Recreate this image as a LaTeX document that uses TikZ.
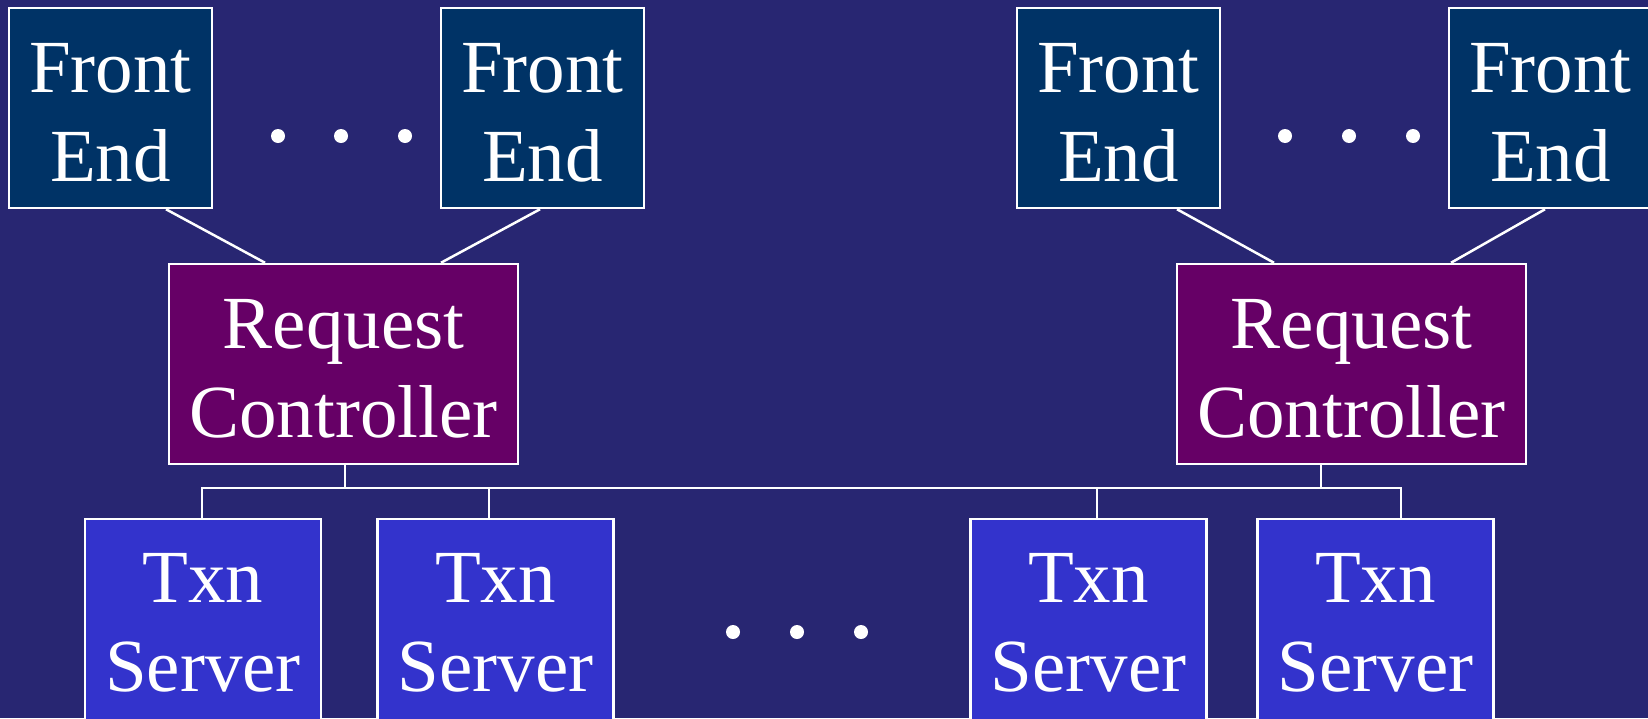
\documentclass[tikz,border=0pt]{standalone}
\usepackage{fontspec}
\setmainfont{Liberation Serif}
\definecolor{bgcol}{RGB}{40,38,114}
\definecolor{fecol}{RGB}{0,51,102}
\definecolor{rccol}{RGB}{102,0,102}
\definecolor{txcol}{RGB}{51,51,204}
\tikzset{
  box/.style={draw=white, line width=2.5pt, inner sep=0pt, text=white, align=center,
    font=\fontsize{75}{89}\selectfont, text depth=0pt},
  febox/.style={box, fill=fecol, minimum width=203pt, minimum height=200pt, text height=146pt},
  rcbox/.style={box, fill=rccol, minimum width=349pt, minimum height=200pt, text height=146pt},
  txbox/.style={box, fill=txcol, minimum width=236pt, minimum height=220pt, text height=124pt},
  wire/.style={draw=white, line width=2.5pt},
  dot/.style={circle, fill=white, inner sep=0pt, minimum size=14pt}
}
\begin{document}
\begin{tikzpicture}[x=1pt, y=-1pt]
\useasboundingbox (0,0) rectangle (1648,718);
\clip (0,0) rectangle (1648,718);
\fill[bgcol] (0,0) rectangle (1648,718);
% front ends
\node[febox] (fe1) at (110.5,108) {Front\\End};
\node[febox] (fe2) at (542.5,108) {Front\\End};
\node[febox] (fe3) at (1118.5,108) {Front\\End};
\node[febox] (fe4) at (1550.5,108) {Front\\End};
% request controllers
\node[rcbox] (rc1) at (343.5,364) {Request\\Controller};
\node[rcbox] (rc2) at (1351.5,364) {Request\\Controller};
% txn servers
\node[txbox] (tx1) at (203,629) {Txn\\Server};
\node[txbox] (tx2) at (495.5,629) {Txn\\Server};
\node[txbox] (tx3) at (1088.5,629) {Txn\\Server};
\node[txbox] (tx4) at (1375.5,629) {Txn\\Server};
% dots
\foreach \x [count=\i] in {278,341,405} \node[dot] (da\i) at (\x,136) {};
\foreach \x [count=\i] in {1285,1349,1413} \node[dot] (db\i) at (\x,136) {};
\foreach \x [count=\i] in {733,797,861} \node[dot] (dc\i) at (\x,632) {};
% front end to controller links
\draw[wire] (fe1.south -| 166,0) -- (rc1.north -| 265,0);
\draw[wire] (fe2.south -| 540,0) -- (rc1.north -| 441,0);
\draw[wire] (fe3.south -| 1177,0) -- (rc2.north -| 1274,0);
\draw[wire] (fe4.south -| 1545,0) -- (rc2.north -| 1451,0);
% bus
\coordinate (busL) at (202,488);
\coordinate (busR) at (1401,488);
\draw[wire] (rc1.south -| 345,0) -- (busL -| 345,0);
\draw[wire] (rc2.south -| 1321,0) -- (busL -| 1321,0);
\draw[wire, line cap=rect] (tx1.north -| busL) -- (busL) -- (busR) -- (tx4.north -| busR);
\draw[wire] (busL -| 489,0) -- (tx2.north -| 489,0);
\draw[wire] (busL -| 1097,0) -- (tx3.north -| 1097,0);
\end{tikzpicture}
\end{document}
